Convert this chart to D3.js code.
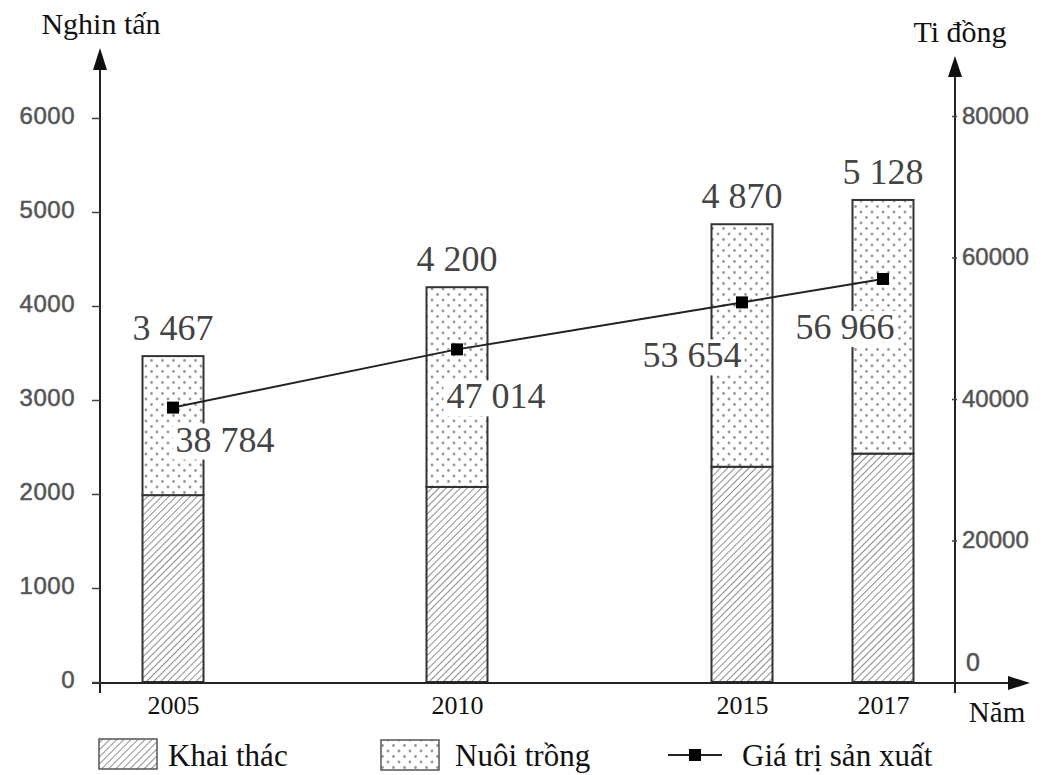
<!DOCTYPE html>
<html><head><meta charset="utf-8">
<script src="https://cdn.jsdelivr.net/npm/d3@7"></script>
<style>body{margin:0;background:#fff}svg{display:block}</style>
</head><body>
<script>
const years = [2005, 2010, 2015, 2017];
const khaiThac = [1988, 2075, 2290, 2430];
const tongSanLuong = [3467, 4200, 4870, 5128];
const nuoiTrong = tongSanLuong.map((t, i) => t - khaiThac[i]);
const giaTri = [38784, 47014, 53654, 56966];
const totalLabels = ["3 467", "4 200", "4 870", "5 128"];
const valueLabels = ["38 784", "47 014", "53 654", "56 966"];
const leftTicks = [0, 1000, 2000, 3000, 4000, 5000, 6000];
const rightTicks = [20000, 40000, 60000, 80000];

const W = 1061, H = 775;
const svg = d3.select("body").append("svg").attr("width", W).attr("height", H);
const defs = svg.append("defs");
const hatch = defs.append("pattern").attr("id", "hatch").attr("patternUnits", "userSpaceOnUse")
  .attr("width", 5).attr("height", 5).attr("patternTransform", "rotate(45)");
hatch.append("rect").attr("width", 5).attr("height", 5).attr("fill", "#fff");
hatch.append("line").attr("x1", 0).attr("y1", 0).attr("x2", 0).attr("y2", 5)
  .attr("stroke", "#6a6a6a").attr("stroke-width", 1.5);
const dots = defs.append("pattern").attr("id", "dots").attr("patternUnits", "userSpaceOnUse")
  .attr("width", 11).attr("height", 11);
dots.append("rect").attr("width", 11).attr("height", 11).attr("fill", "#fff");
dots.append("circle").attr("cx", 3).attr("cy", 3).attr("r", 1.4).attr("fill", "#999");
dots.append("circle").attr("cx", 8.5).attr("cy", 8.5).attr("r", 1.4).attr("fill", "#999");

const x = d3.scaleLinear().domain(years).range([173, 457, 742, 883]);
const yL = d3.scaleLinear().domain([0, 6000]).range([682, 118]);
const yR = d3.scaleLinear().domain([0, 80000]).range([682, 116]);
const barW = 61;
const serif = "'Liberation Serif','Times New Roman',serif";
const sans = "'Liberation Sans',Arial,sans-serif";

// bars
const g = svg.append("g");
years.forEach((yr, i) => {
  g.append("rect").attr("x", x(yr) - barW / 2).attr("y", yL(khaiThac[i]))
    .attr("width", barW).attr("height", yL(0) - yL(khaiThac[i]))
    .attr("fill", "url(#hatch)").attr("stroke", "#333").attr("stroke-width", 2);
  g.append("rect").attr("x", x(yr) - barW / 2).attr("y", yL(tongSanLuong[i]))
    .attr("width", barW).attr("height", yL(khaiThac[i]) - yL(tongSanLuong[i]))
    .attr("fill", "url(#dots)").attr("stroke", "#333").attr("stroke-width", 2);
  g.append("text").attr("x", x(yr)).attr("y", yL(tongSanLuong[i]) - 16)
    .attr("text-anchor", "middle").attr("font-family", serif).attr("font-size", 36)
    .attr("fill", "#444").text(totalLabels[i]);
});

// line
const line = d3.line().x((d, i) => x(years[i])).y(d => yR(d));
svg.append("path").datum(giaTri).attr("d", line).attr("fill", "none")
  .attr("stroke", "#222").attr("stroke-width", 2);
svg.selectAll(".mk").data(giaTri).enter().append("rect")
  .attr("x", (d, i) => x(years[i]) - 6).attr("y", d => yR(d) - 6)
  .attr("width", 12).attr("height", 12).attr("fill", "#000");

// value labels with white background
const labOffsets = [[52, 44], [39, 59], [-50, 65], [-38, 60]];
years.forEach((yr, i) => {
  const t = svg.append("text").attr("x", x(yr) + labOffsets[i][0]).attr("y", yR(giaTri[i]) + labOffsets[i][1])
    .attr("text-anchor", "middle").attr("font-family", serif).attr("font-size", 36)
    .attr("fill", "#444").text(valueLabels[i]);
  const b = t.node().getBBox();
  svg.insert("rect", () => t.node()).attr("x", b.x - 3).attr("y", b.y + 4)
    .attr("width", b.width + 6).attr("height", b.height - 4).attr("fill", "#fff");
});

// axes
const axG = svg.append("g").attr("stroke", "#222").attr("stroke-width", 2);
axG.append("line").attr("x1", 100).attr("y1", 693).attr("x2", 100).attr("y2", 66);
axG.append("line").attr("x1", 955).attr("y1", 693).attr("x2", 955).attr("y2", 72);
axG.append("line").attr("x1", 92).attr("y1", 683).attr("x2", 1012).attr("y2", 683);
svg.append("path").attr("d", "M100,48 L93,70 L107,70 Z").attr("fill", "#111");
svg.append("path").attr("d", "M955,56 L948,77 L962,77 Z").attr("fill", "#111");
svg.append("path").attr("d", "M1030,683 L1008,676 L1008,690 Z").attr("fill", "#111");

const leftAxis = d3.axisLeft(yL).tickValues(leftTicks).tickFormat(d3.format("d")).tickSize(8).tickPadding(17);
const la = svg.append("g").attr("transform", "translate(100,0)").call(leftAxis);
la.select(".domain").remove();
la.selectAll("line").attr("stroke", "#444").attr("stroke-width", 1.5);
la.selectAll("text").attr("font-family", sans).attr("font-size", 24).attr("fill", "#505050")
  .attr("stroke", "#666").attr("stroke-width", 0.6).attr("dy", "0.22em").style("letter-spacing", "0.5px");

const rightAxis = d3.axisRight(yR).tickValues(rightTicks).tickFormat(d3.format("d")).tickSize(5).tickPadding(5);
const ra = svg.append("g").attr("transform", "translate(952,0)").call(rightAxis);
ra.select(".domain").remove();
ra.selectAll("line").attr("stroke", "#444").attr("stroke-width", 1.5);
ra.selectAll("text").attr("font-family", sans).attr("font-size", 24).attr("fill", "#505050")
  .attr("stroke", "#666").attr("stroke-width", 0.6).attr("dy", "0.3em");
svg.append("text").attr("x", 966).attr("y", 671).attr("font-family", sans).attr("font-size", 25)
  .attr("fill", "#505050").attr("stroke", "#666").attr("stroke-width", 0.6).text("0");

const xAxis = d3.axisBottom(x).tickValues(years).tickFormat(d3.format("d")).tickSize(0).tickPadding(13);
const xa = svg.append("g").attr("transform", "translate(0,683)").call(xAxis);
xa.select(".domain").remove();
xa.selectAll("text").attr("font-family", serif).attr("font-size", 26).attr("fill", "#111");

// titles
svg.append("text").attr("x", 101).attr("y", 34).attr("text-anchor", "middle")
  .attr("font-family", serif).attr("font-size", 30).attr("fill", "#111").text("Nghin tấn");
svg.append("text").attr("x", 960).attr("y", 42).attr("text-anchor", "middle")
  .attr("font-family", serif).attr("font-size", 30).attr("fill", "#111").text("Ti đồng");
svg.append("text").attr("x", 997).attr("y", 722).attr("text-anchor", "middle")
  .attr("font-family", serif).attr("font-size", 29).attr("fill", "#111").text("Năm");

// legend
const lg = svg.append("g");
lg.append("rect").attr("x", 99).attr("y", 739).attr("width", 58).attr("height", 30)
  .attr("fill", "url(#hatch)").attr("stroke", "#555").attr("stroke-width", 1.5);
lg.append("text").attr("x", 168).attr("y", 766).attr("font-family", serif).attr("font-size", 31)
  .attr("fill", "#111").text("Khai thác");
lg.append("rect").attr("x", 381).attr("y", 740).attr("width", 58).attr("height", 30)
  .attr("fill", "url(#dots)").attr("stroke", "#555").attr("stroke-width", 1.5);
lg.append("text").attr("x", 455).attr("y", 766).attr("font-family", serif).attr("font-size", 31)
  .attr("fill", "#111").text("Nuôi trồng");
lg.append("line").attr("x1", 668).attr("y1", 755).attr("x2", 722).attr("y2", 755)
  .attr("stroke", "#222").attr("stroke-width", 2);
lg.append("rect").attr("x", 689).attr("y", 749).attr("width", 12).attr("height", 12).attr("fill", "#000");
lg.append("text").attr("x", 742).attr("y", 766).attr("font-family", serif).attr("font-size", 31)
  .attr("fill", "#111").text("Giá trị sản xuất");
</script>
</body></html>
